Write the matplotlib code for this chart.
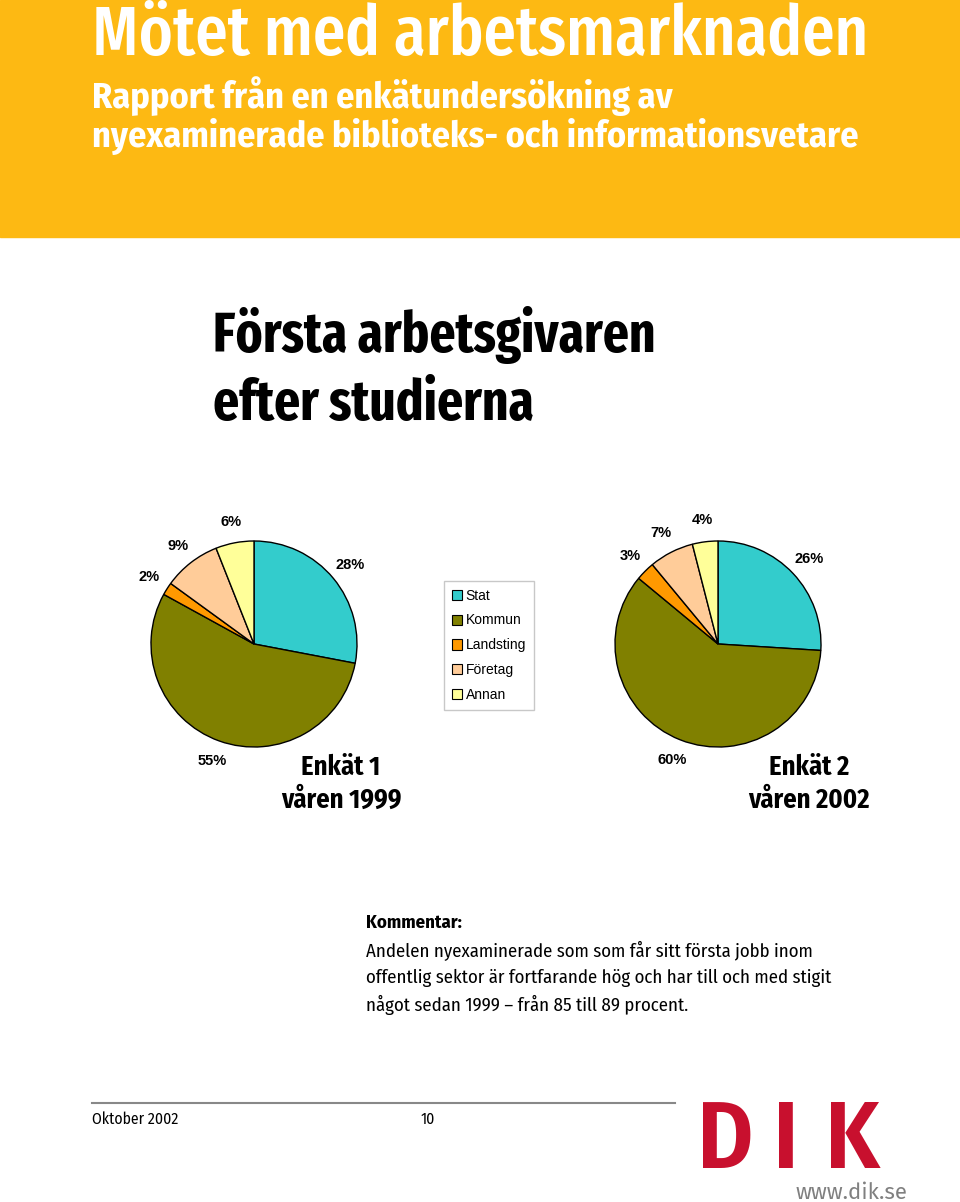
"""
Första arbetsgivaren efter studierna - two pie charts (Enkät 1 / Enkät 2).
"""
import matplotlib
matplotlib.use("Agg")
import matplotlib.pyplot as plt
from matplotlib.patches import Rectangle, Patch

categories = ["Stat", "Kommun", "Landsting", "Företag", "Annan"]
enkat1 = [28, 55, 2, 9, 6]
enkat2 = [26, 60, 3, 7, 4]
colors = ["#33CCCC", "#808000", "#FF9900", "#FFCC99", "#FFFF99"]

COND = ["Fira Sans Condensed", "DejaVu Sans"]
XCOND = ["Fira Sans Extra Condensed", "DejaVu Sans"]
SANS = ["Liberation Sans", "DejaVu Sans"]
W, H = 960, 1202

fig = plt.figure(figsize=(W / 100, H / 100), dpi=100)
bg = fig.add_axes([0, 0, 1, 1])
bg.set_xlim(0, W)
bg.set_ylim(H, 0)
bg.axis("off")

# orange header band
bg.add_patch(Rectangle((0, 0), W, 237, color="#FDB913", zorder=0))
bg.text(92, 55, "Mötet med arbetsmarknaden", family=XCOND, fontsize=50.5,
        weight=500, color="white", va="baseline")
bg.text(92, 108, "Rapport från en enkätundersökning av", family=COND,
        fontsize=26, weight="bold", color="white", va="baseline")
bg.text(92, 147, "nyexaminerade biblioteks- och informationsvetare", family=COND,
        fontsize=26, weight="bold", color="white", va="baseline")

bg.text(213, 352, "Första arbetsgivaren", family=XCOND, fontsize=40,
        weight="bold", va="baseline")
bg.text(213, 420, "efter studierna", family=XCOND, fontsize=40,
        weight="bold", va="baseline")


def draw_pie(values, cx, cy, r=103):
    side = 3 * r
    ax = fig.add_axes([(cx - side / 2) / W, (H - cy - side / 2) / H, side / W, side / H])
    ax.pie(values, colors=colors, startangle=90, counterclock=False,
           autopct="%.0f%%", pctdistance=1.21,
           wedgeprops=dict(edgecolor="black", linewidth=1),
           textprops=dict(family=SANS, fontsize=10.5, weight="bold"))
    ax.set_xlim(-1.5, 1.5)
    ax.set_ylim(-1.5, 1.5)
    ax.set_aspect("equal")
    ax.axis("off")


draw_pie(enkat1, 254, 644)
draw_pie(enkat2, 718, 644)

handles = [Patch(facecolor=c, edgecolor="black", linewidth=0.8) for c in colors]
leg = fig.legend(handles, categories, loc="upper left",
                 bbox_to_anchor=(444 / W, 1 - 581 / H), borderaxespad=0,
                 prop=dict(family=SANS, size=10), handlelength=0.75, handleheight=0.75,
                 handletextpad=0.25, labelspacing=0.78, fancybox=False,
                 edgecolor="#BBBBBB", borderpad=0.55)
leg.get_frame().set_linewidth(1)

for cx, lines in [(341, ("Enkät 1", "våren 1999")), (809, ("Enkät 2", "våren 2002"))]:
    bg.text(cx, 775, lines[0], family=COND, fontsize=19, weight="bold",
            ha="center", va="baseline")
    bg.text(cx, 808, lines[1], family=COND, fontsize=19, weight="bold",
            ha="center", va="baseline")

bg.text(366, 928, "Kommentar:", family=COND, fontsize=13.5, weight="bold",
        va="baseline")
comment = ["Andelen nyexaminerade som som får sitt första jobb inom",
           "offentlig sektor är fortfarande hög och har till och med stigit",
           "något sedan 1999 – från 85 till 89 procent."]
for i, line in enumerate(comment):
    bg.text(366, 956 + i * 27.3, line, family=COND, fontsize=13.5, va="baseline")

# footer
bg.plot([92, 675], [1103, 1103], color="#888888", linewidth=1.5)
bg.text(92, 1124, "Oktober 2002", family=COND, fontsize=11.3, va="baseline")
bg.text(428, 1124, "10", family=COND, fontsize=11.3, ha="center", va="baseline")
for x, ch in [(725, "D"), (786, "I"), (852, "K")]:
    bg.text(x, 1168, ch, family=COND, fontsize=69, weight=600, color="#C8102E",
            ha="center", va="baseline")
bg.text(907, 1199, "www.dik.se", family=["Fira Sans", "DejaVu Sans"], fontsize=16,
        color="#808080", ha="right", va="baseline")

fig.savefig("out.png", dpi=100)
